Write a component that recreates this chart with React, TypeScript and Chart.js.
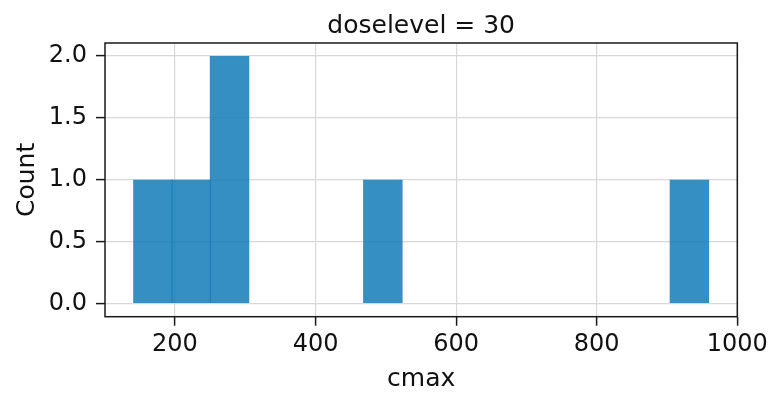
import React, { useEffect, useRef } from 'react';
import { Chart, registerables } from 'chart.js';

Chart.register(...registerables);

// Histogram bin edges (cmax) and counts per bin
const binEdges = [141.4, 195.9, 250.4, 304.9, 359.5, 414.0, 468.5, 523.0, 577.5, 632.0, 686.5, 741.0, 795.6, 850.1, 904.6, 959.1];
const counts = [1, 1, 2, 0, 0, 0, 1, 0, 0, 0, 0, 0, 0, 0, 1];
const xTicks = [200, 400, 600, 800, 1000];
const yTicks = [0, 0.5, 1.0, 1.5, 2.0];
const titleText = 'doselevel = 30';
const xLabel = 'cmax';
const yLabel = 'Count';

const FONT = '"DejaVu Sans", sans-serif';
const TEXT = '#111111';

const facetTitle = {
  id: 'facetTitle',
  afterDraw(chart: any) {
    const { ctx, chartArea } = chart;
    ctx.save();
    ctx.font = `25px ${FONT}`;
    ctx.fillStyle = TEXT;
    ctx.textAlign = 'center';
    ctx.textBaseline = 'alphabetic';
    ctx.fillText(titleText, (chartArea.left + chartArea.right) / 2, chartArea.top - 10);
    ctx.restore();
  },
};

const frame = {
  id: 'frame',
  afterDraw(chart: any) {
    const { ctx, chartArea } = chart;
    ctx.save();
    ctx.strokeStyle = '#1a1a1a';
    ctx.lineWidth = 1.5;
    ctx.strokeRect(chartArea.left, chartArea.top, chartArea.right - chartArea.left, chartArea.bottom - chartArea.top);
    ctx.restore();
  },
};

export default function App() {
  const ref = useRef<HTMLCanvasElement | null>(null);

  useEffect(() => {
    if (!ref.current) return;
    const data = counts.map((c, i) => ({ x: (binEdges[i] + binEdges[i + 1]) / 2, y: c }));
    const chart = new Chart(ref.current, {
      type: 'bar',
      data: {
        datasets: [
          {
            data,
            backgroundColor: 'rgba(20,125,185,0.86)',
            borderWidth: 0,
            barPercentage: 1.03,
            categoryPercentage: 1,
          } as any,
        ],
      },
      options: {
        responsive: false,
        animation: false,
        layout: { padding: { top: 43, right: 36.7, left: 0, bottom: 0 } },
        plugins: {
          legend: { display: false },
          tooltip: { enabled: false },
          title: { display: false },
        },
        scales: {
          x: {
            type: 'linear',
            min: 100.5,
            max: 1000,
            offset: false,
            afterFit: (s: any) => { s.height = 84.3; },
            afterBuildTicks: (s: any) => { s.ticks = xTicks.map((v) => ({ value: v })); },
            grid: {
              offset: false,
              color: '#d8d8d8',
              lineWidth: 1.2,
              drawTicks: true,
              tickLength: 9,
              tickColor: '#1a1a1a',
              tickWidth: 1.5,
            },
            border: { display: false },
            ticks: {
              color: TEXT,
              font: { family: FONT, size: 24 },
              padding: 5,
              maxRotation: 0,
              autoSkip: false,
              callback: (v: any) => String(v),
            },
            title: {
              display: true,
              text: xLabel,
              color: TEXT,
              font: { family: FONT, size: 25 },
              padding: { top: 0, bottom: 6.6 },
            },
          },
          y: {
            type: 'linear',
            min: -0.105,
            max: 2.105,
            afterFit: (s: any) => { s.width = 105; },
            afterBuildTicks: (s: any) => { s.ticks = yTicks.map((v) => ({ value: v })); },
            grid: {
              color: '#d8d8d8',
              lineWidth: 1.2,
              drawTicks: true,
              tickLength: 9,
              tickColor: '#1a1a1a',
              tickWidth: 1.5,
            },
            border: { display: false },
            ticks: {
              color: TEXT,
              font: { family: FONT, size: 24 },
              padding: 9,
              autoSkip: false,
              callback: (v: any) => Number(v).toFixed(1),
            },
            title: {
              display: true,
              text: yLabel,
              color: TEXT,
              font: { family: FONT, size: 25 },
              padding: { top: 12.4, bottom: 0 },
            },
          },
        },
      } as any,
      plugins: [facetTitle, frame],
    });
    return () => chart.destroy();
  }, []);

  return (
    <div style={{ position: 'fixed', left: 0, top: 0, width: 774, height: 401, background: '#fff' }}>
      <canvas ref={ref} width={774} height={401} />
    </div>
  );
}
